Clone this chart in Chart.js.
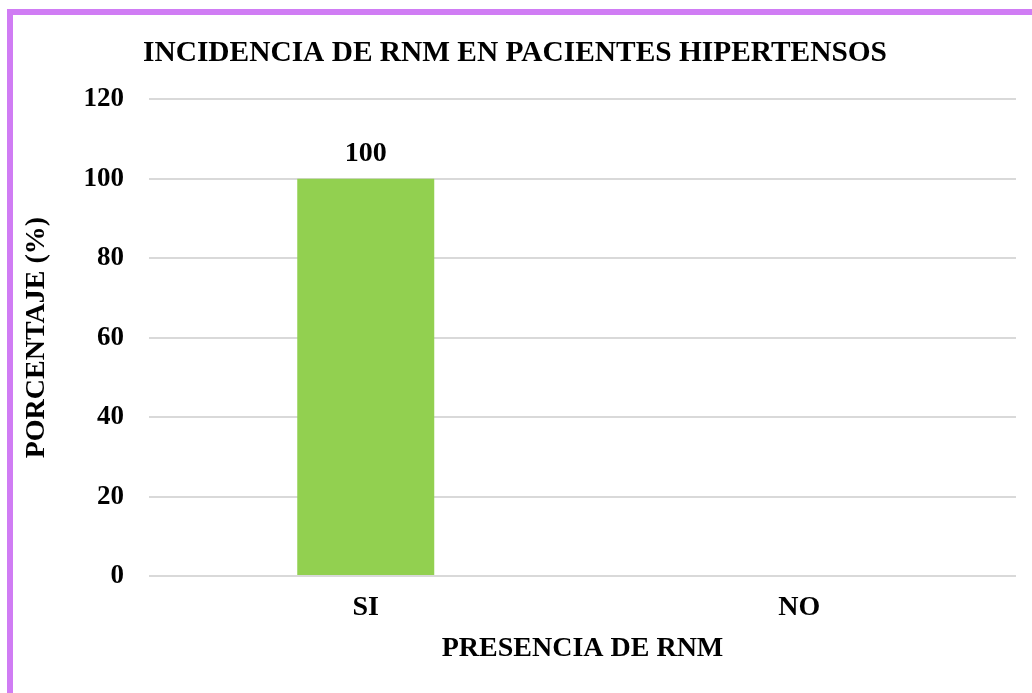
<!DOCTYPE html>
<html>
<head>
<meta charset="utf-8">
<script src="https://cdn.jsdelivr.net/npm/chart.js@4.4.0/dist/chart.umd.min.js"></script>
<style>
  html, body { margin: 0; padding: 0; background: #fff; overflow: hidden; }
  .frame {
    position: absolute; left: 7px; top: 9px; width: 1040px; height: 700px;
    border-left: 6px solid #d07cf4; border-top: 6px solid #d07cf4;
  }
  .wrap { position: absolute; left: 0; top: 0; width: 1032px; height: 693px; }
</style>
</head>
<body>
<div class="frame"></div>
<div class="wrap"><canvas id="rnmChart" width="1032" height="693"></canvas></div>
<script>
const categories = ['SI', 'NO'];
const percentages = [100, 0];
const yTicks = [0, 20, 40, 60, 80, 100, 120];

const SERIF = "'Liberation Serif', 'Times New Roman', serif";

// draws the value over each bar (only non-zero ones, like the original)
const valueLabels = {
  id: 'valueLabels',
  afterDatasetsDraw(chart) {
    const ctx = chart.ctx;
    const meta = chart.getDatasetMeta(0);
    ctx.save();
    ctx.font = 'bold 28px ' + SERIF;
    ctx.fillStyle = '#000';
    ctx.textAlign = 'center';
    ctx.textBaseline = 'middle';
    meta.data.forEach((bar, i) => {
      const v = percentages[i];
      if (!v) return;
      ctx.fillText(String(v), bar.x, bar.y - 25);
    });
    ctx.restore();
  }
};

const ctx = document.getElementById('rnmChart').getContext('2d');

new Chart(ctx, {
  type: 'bar',
  data: {
    labels: categories,
    datasets: [{
      data: percentages,
      backgroundColor: '#92d050',
      borderWidth: 0,
      barPercentage: 0.316,
      categoryPercentage: 1
    }]
  },
  options: {
    responsive: false,
    animation: false,
    layout: { padding: { left: 14, right: 16, top: 9, bottom: 20 } },
    plugins: {
      legend: { display: false },
      tooltip: { enabled: false },
      title: {
        display: true,
        text: 'INCIDENCIA DE RNM EN PACIENTES HIPERTENSOS',
        color: '#000',
        font: { family: SERIF, size: 29.4, weight: 'bold' },
        padding: { top: 27, bottom: 28 }
      }
    },
    scales: {
      x: {
        afterFit(scale) { scale.height = 97; },
        grid: { display: false, drawTicks: false },
        border: { display: false },
        ticks: {
          color: '#000',
          padding: 15,
          font: { family: SERIF, size: 28, weight: 'bold' }
        },
        title: {
          display: true,
          text: 'PRESENCIA DE RNM',
          color: '#000',
          font: { family: SERIF, size: 28, weight: 'bold' },
          padding: { top: 7, bottom: 7 }
        }
      },
      y: {
        min: yTicks[0],
        max: yTicks[yTicks.length - 1],
        afterBuildTicks(scale) {
          scale.ticks = yTicks.map(v => ({ value: v }));
        },
        afterFit(scale) { scale.width = 135; },
        grid: { color: '#d9d9d9', lineWidth: 2, drawTicks: false },
        border: { display: false },
        ticks: {
          color: '#000',
          padding: 25,
          font: { family: SERIF, size: 27, weight: 'bold' }
        },
        title: {
          display: true,
          text: 'PORCENTAJE (%)',
          color: '#000',
          font: { family: SERIF, size: 28, weight: 'bold' },
          padding: { top: 6, bottom: 0 }
        }
      }
    }
  },
  plugins: [valueLabels]
});
</script>
</body>
</html>
